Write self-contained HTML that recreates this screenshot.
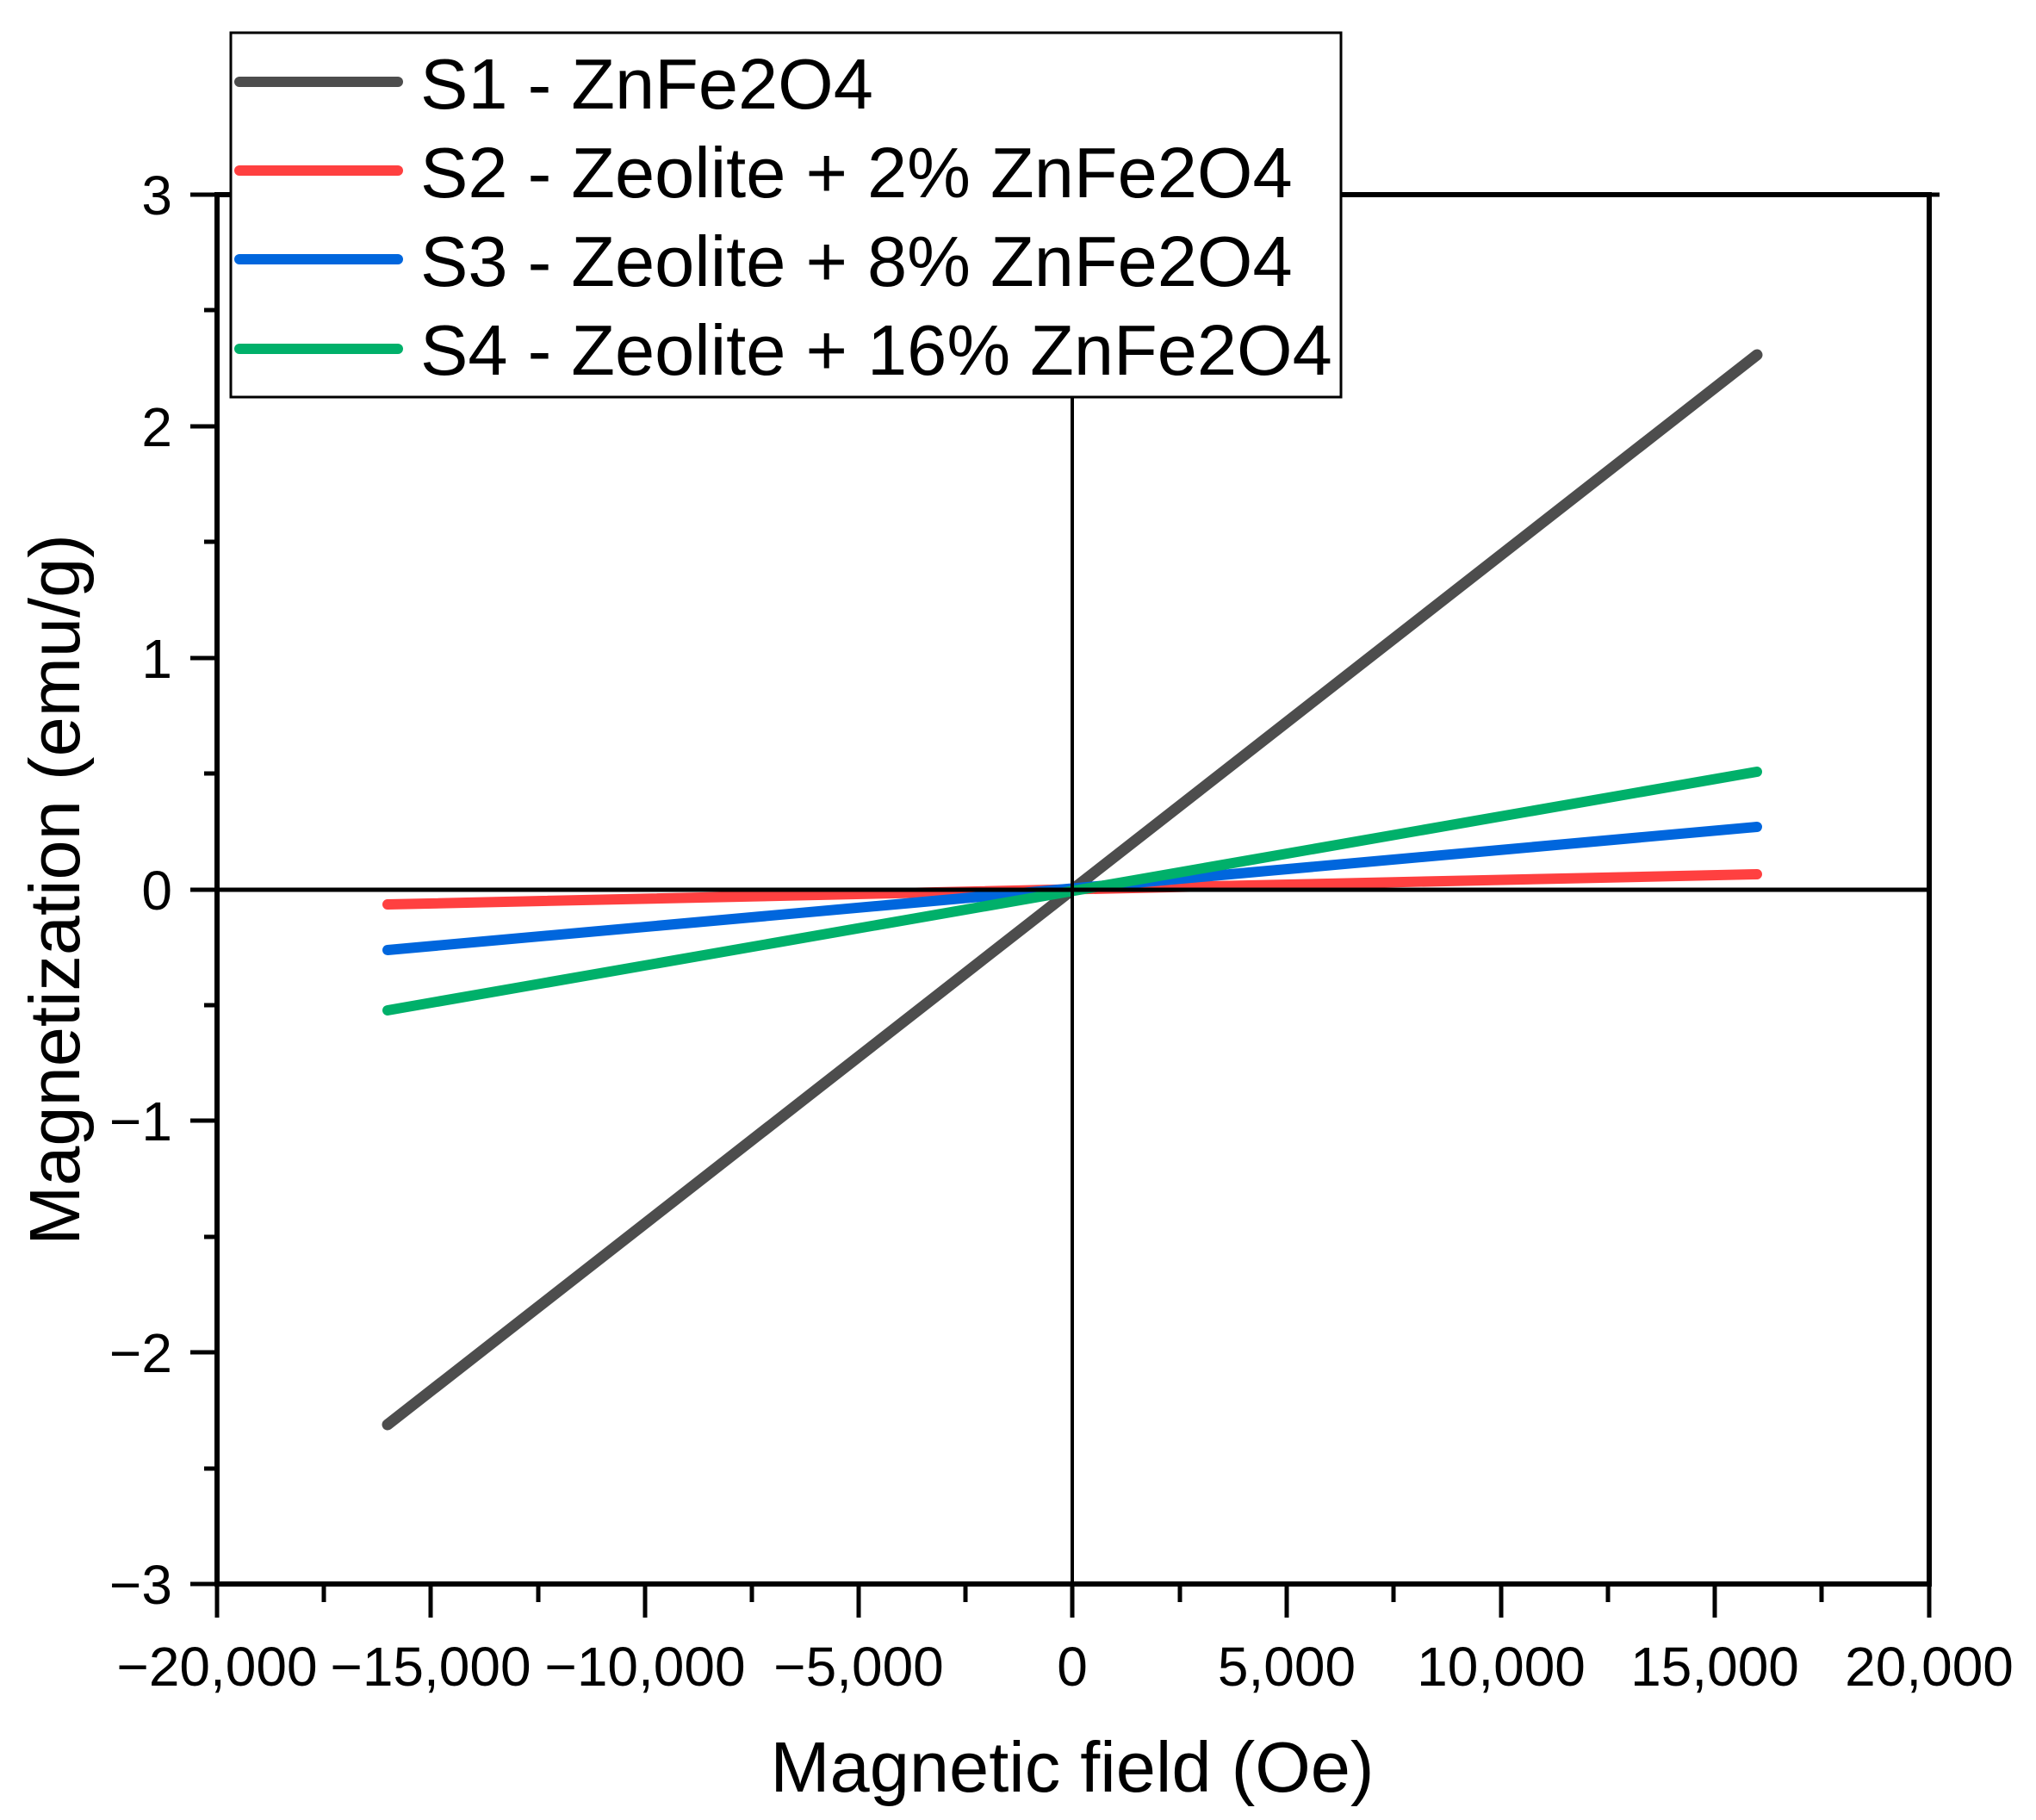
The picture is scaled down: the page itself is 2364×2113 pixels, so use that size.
<!DOCTYPE html>
<html><head><meta charset="utf-8"><style>body{margin:0;background:#fff}svg{display:block}</style></head>
<body>
<svg width="2364" height="2113" viewBox="0 0 2364 2113" xmlns="http://www.w3.org/2000/svg" font-family="Liberation Sans, sans-serif">
<rect width="2364" height="2113" fill="#fff"/>
<g stroke-linecap="round" fill="none">
<line x1="450" y1="1654" x2="2040" y2="412" stroke="#4d4d4d" stroke-width="13"/>
<line x1="450" y1="1050" x2="2040" y2="1015" stroke="#ff4040" stroke-width="12"/>
<line x1="450" y1="1103" x2="2040" y2="960" stroke="#0066dd" stroke-width="12"/>
<line x1="450" y1="1173" x2="2040" y2="896" stroke="#00b06a" stroke-width="12"/>
</g>
<line x1="1245" y1="226" x2="1245" y2="1839" stroke="#000" stroke-width="4"/>
<line x1="252" y1="1033" x2="2240" y2="1033" stroke="#000" stroke-width="5"/>
<rect x="252" y="226" width="1988" height="1613" fill="none" stroke="#000" stroke-width="6"/>
<g stroke="#000" stroke-width="5">
<line x1="221" y1="226" x2="252" y2="226"/><line x1="221" y1="495" x2="252" y2="495"/><line x1="221" y1="764" x2="252" y2="764"/><line x1="221" y1="1033" x2="252" y2="1033"/><line x1="221" y1="1301" x2="252" y2="1301"/><line x1="221" y1="1570" x2="252" y2="1570"/><line x1="221" y1="1839" x2="252" y2="1839"/>
<line x1="237" y1="360" x2="252" y2="360"/><line x1="237" y1="629" x2="252" y2="629"/><line x1="237" y1="898" x2="252" y2="898"/><line x1="237" y1="1167" x2="252" y2="1167"/><line x1="237" y1="1436" x2="252" y2="1436"/><line x1="237" y1="1705" x2="252" y2="1705"/>
<line x1="2240" y1="226" x2="2252" y2="226"/>
</g>
<g stroke="#000" stroke-width="5">
<line x1="252" y1="1839" x2="252" y2="1878"/><line x1="500" y1="1839" x2="500" y2="1878"/><line x1="749" y1="1839" x2="749" y2="1878"/><line x1="997" y1="1839" x2="997" y2="1878"/><line x1="1245" y1="1839" x2="1245" y2="1878"/><line x1="1494" y1="1839" x2="1494" y2="1878"/><line x1="1743" y1="1839" x2="1743" y2="1878"/><line x1="1991" y1="1839" x2="1991" y2="1878"/><line x1="2240" y1="1839" x2="2240" y2="1878"/>
<line x1="376" y1="1839" x2="376" y2="1860"/><line x1="625" y1="1839" x2="625" y2="1860"/><line x1="873" y1="1839" x2="873" y2="1860"/><line x1="1121" y1="1839" x2="1121" y2="1860"/><line x1="1370" y1="1839" x2="1370" y2="1860"/><line x1="1618" y1="1839" x2="1618" y2="1860"/><line x1="1867" y1="1839" x2="1867" y2="1860"/><line x1="2115" y1="1839" x2="2115" y2="1860"/>
</g>
<g font-size="64" text-anchor="end" fill="#000">
<text x="200" y="249">3</text><text x="200" y="518">2</text><text x="200" y="787">1</text><text x="200" y="1056">0</text><text x="200" y="1324">−1</text><text x="200" y="1593">−2</text><text x="200" y="1862">−3</text>
</g>
<g font-size="64" text-anchor="middle" fill="#000">
<text x="252" y="1957">−20,000</text><text x="500" y="1957">−15,000</text><text x="749" y="1957">−10,000</text><text x="997" y="1957">−5,000</text><text x="1245" y="1957">0</text><text x="1494" y="1957">5,000</text><text x="1743" y="1957">10,000</text><text x="1991" y="1957">15,000</text><text x="2240" y="1957">20,000</text>
</g>
<text x="1245" y="2080" font-size="83" text-anchor="middle">Magnetic field (Oe)</text>
<text transform="translate(92,1033) rotate(-90)" font-size="83" text-anchor="middle">Magnetization (emu/g)</text>
<rect x="268" y="38" width="1289" height="423" fill="#fff" stroke="#000" stroke-width="3"/>
<g stroke-width="12" stroke-linecap="round">
<line x1="278" y1="95" x2="462" y2="95" stroke="#4d4d4d"/>
<line x1="278" y1="198" x2="462" y2="198" stroke="#ff4040"/>
<line x1="278" y1="301" x2="462" y2="301" stroke="#0066dd"/>
<line x1="278" y1="405" x2="462" y2="405" stroke="#00b06a"/>
</g>
<g font-size="83" fill="#000">
<text x="488" y="126">S1 - ZnFe2O4</text>
<text x="488" y="229">S2 - Zeolite + 2% ZnFe2O4</text>
<text x="488" y="332">S3 - Zeolite + 8% ZnFe2O4</text>
<text x="488" y="435">S4 - Zeolite + 16% ZnFe2O4</text>
</g>
</svg>
</body></html>
